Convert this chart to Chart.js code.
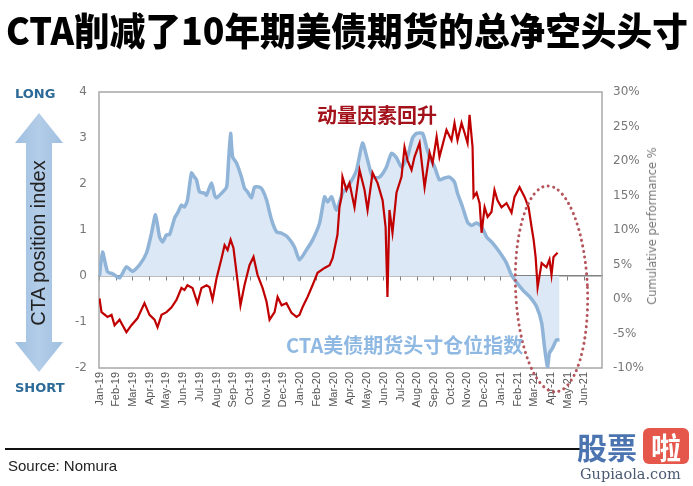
<!DOCTYPE html>
<html>
<head>
<meta charset="utf-8">
<script src="https://cdn.jsdelivr.net/npm/chart.js@4.4.1/dist/chart.umd.min.js"></script>
<style>
    html, body { margin: 0; padding: 0; background: #fff; }
    #wrap { position: relative; width: 693px; height: 486px; overflow: hidden; }
    #chart { position: absolute; left: 0; top: 0; }
    .abs { position: absolute; white-space: nowrap; }
    #title { left: 6px; top: 1px; font: 900 38px "Noto Sans CJK SC"; color: #000; transform-origin: 0 0; }
    #long, #short { font: bold 13px "DejaVu Sans"; color: #2d6a98; }
    #long { left: 15px; top: 86px; }
    #short { left: 15px; top: 380px; }
    #cpi { font: 20px "Liberation Sans"; color: #222; left: 38px; top: 243px; transform: translate(-50%, -50%) rotate(-90deg); }
    #rtitle { font: 11.5px "DejaVu Sans"; color: #777; left: 652px; top: 226px; transform: translate(-50%, -50%) rotate(-90deg); }
    #note1 { left: 317px; top: 100px; font: bold 20px "Noto Sans CJK SC"; color: #a3111a; }
    #note2 { left: 286px; top: 330px; font: bold 20px "Noto Sans CJK SC"; color: #8fb9e2; }
    #rule { left: 5px; top: 448px; width: 575px; height: 2px; background: #111; }
    #source { left: 8px; top: 457px; font: 15px "Liberation Sans"; color: #222; }
    #logo1 { left: 577px; top: 424px; font: bold 30px "Noto Sans CJK SC"; color: #4b74b0; }
    #logo2 { left: 643px; top: 428px; width: 46px; height: 36px; border-radius: 6px; background: #e4574a;
             color: #fff; font: bold 30px "Noto Sans CJK SC"; line-height: 36px; text-align: center; }
    #logo3 { left: 580px; top: 466px; font: 14.5px "DejaVu Serif"; color: #4a5a72; }
</style>
</head>
<body>
<div id="wrap">
    <canvas id="chart" width="693" height="486"></canvas>
    <div class="abs" id="title">CTA削减了10年期美债期货的总净空头头寸</div>

    <svg class="abs" style="left:0;top:0" width="80" height="400">
        <defs>
            <linearGradient id="arrowFill" x1="0" x2="1" y1="0" y2="0">
                <stop offset="0" stop-color="#9fbfe0"/>
                <stop offset="0.5" stop-color="#b3cde8"/>
                <stop offset="1" stop-color="#9fbfe0"/>
            </linearGradient>
        </defs>
        <polygon fill="url(#arrowFill)"
                 points="39,113 15,143 26,143 26,342 15,342 39,372 63,342 52,342 52,143 63,143"/>
    </svg>
    <div class="abs" id="long">LONG</div>
    <div class="abs" id="short">SHORT</div>
    <div class="abs" id="cpi">CTA position index</div>
    <div class="abs" id="rtitle">Cumulative performance %</div>

    <div class="abs" id="note1">动量因素回升</div>
    <div class="abs" id="note2">CTA美债期货头寸仓位指数</div>

    <div class="abs" id="rule"></div>
    <div class="abs" id="source">Source: Nomura</div>
    <div class="abs" id="logo1">股票</div>
    <div class="abs" id="logo2">啦</div>
    <div class="abs" id="logo3">Gupiaola.com</div>
</div>

<script>
/* ------------------------------------------------------------
   Data (x = months since Jan-19)
   ------------------------------------------------------------ */
const monthLabels = ["Jan-19", "Feb-19", "Mar-19", "Apr-19", "May-19", "Jun-19", "Jul-19", "Aug-19",
    "Sep-19", "Oct-19", "Nov-19", "Dec-19", "Jan-20", "Feb-20", "Mar-20", "Apr-20", "May-20", "Jun-20",
    "Jul-20", "Aug-20", "Sep-20", "Oct-20", "Nov-20", "Dec-20", "Jan-21", "Feb-21", "Mar-21", "Apr-21",
    "May-21", "Jun-21"];

const leftTicks = [-2, -1, 0, 1, 2, 3, 4];
const rightTicks = [-10, -5, 0, 5, 10, 15, 20, 25, 30];

// CTA position index (left axis)
const ctaMonth = [0, 0.18, 0.48, 0.78, 1.2, 1.61, 1.97, 2.39, 2.81, 3.11, 3.35, 3.59, 3.77, 4.0, 4.19,
    4.49, 4.67, 4.9, 5.08, 5.26, 5.5, 5.68, 5.8, 5.98, 6.28, 6.4, 6.7, 6.88, 7.0, 7.3, 7.6, 7.72, 7.84,
    7.96, 8.19, 8.49, 8.67, 8.85, 9.09, 9.27, 9.57, 9.75, 9.99, 10.29, 10.59, 10.89, 11.24, 11.66, 11.96,
    12.38, 12.74, 13.16, 13.46, 13.64, 13.88, 14.17, 14.53, 14.95, 15.37, 15.73, 16.03, 16.33, 16.75,
    17.16, 17.46, 17.76, 18.06, 18.42, 18.72, 18.96, 19.32, 19.56, 19.74, 20.04, 20.33, 20.63, 20.93,
    21.23, 21.41, 21.71, 22.01, 22.25, 22.55, 22.85, 23.15, 23.5, 23.92, 24.34, 24.64, 25.3, 25.72,
    26.14, 26.44, 26.61, 26.79, 26.91, 27.09, 27.33, 27.51];
const ctaIndex = [0.0, 0.52, 0.09, 0.05, -0.04, 0.2, 0.1, 0.24, 0.5, 0.93, 1.33, 0.85, 0.74, 0.89, 0.9,
    1.26, 1.37, 1.54, 1.5, 1.65, 2.24, 2.15, 2.09, 1.83, 1.8, 1.76, 2.02, 1.76, 1.7, 1.8, 1.93, 2.52, 3.1,
    2.59, 2.46, 2.15, 1.91, 1.83, 1.7, 1.93, 1.93, 1.87, 1.65, 1.22, 0.96, 0.93, 0.85, 0.63, 0.35,
    0.57, 0.78, 1.15, 1.72, 1.61, 1.72, 1.43, 1.8, 2.0, 2.3, 2.89, 2.52, 2.15, 2.15,
    2.37, 2.67, 2.57, 2.37, 2.59, 3.0, 3.1, 3.1, 2.8, 2.59, 2.37, 2.09, 2.13, 2.15,
    2.04, 1.8, 1.5, 1.17, 1.1, 1.15, 1.07, 0.85, 0.72, 0.52, 0.28, 0.02, -0.3, -0.45,
    -0.67, -1.02, -1.54, -1.98, -1.67, -1.57, -1.39, -1.39];

// Momentum cumulative performance % (right axis)
const momMonth = [0, 0.12, 0.48, 0.72, 0.9, 1.2, 1.38, 1.61, 1.91, 2.27, 2.69, 2.99, 3.29, 3.47, 3.71,
    4.01, 4.31, 4.61, 4.9, 5.08, 5.26, 5.56, 5.86, 6.1, 6.4, 6.58, 6.76, 7.0, 7.3, 7.48, 7.66, 7.84, 8.01,
    8.19, 8.43, 8.67, 8.97, 9.21, 9.45, 9.75, 9.99, 10.17, 10.47, 10.65, 10.89, 11.18, 11.48, 11.78,
    11.96, 12.14, 12.44, 12.74, 13.04, 13.46, 13.76, 13.94, 14.23, 14.35, 14.47, 14.53, 14.77, 14.95,
    15.25, 15.55, 15.85, 16.03, 16.33, 16.63, 16.93, 17.11, 17.22, 17.34, 17.52, 17.76, 18.06, 18.24,
    18.42, 18.66, 18.84, 19.14, 19.44, 19.74, 19.92, 20.16, 20.33, 20.75, 21.05, 21.23, 21.41, 21.65,
    21.83, 22.01, 22.13, 22.31, 22.37, 22.55, 22.73, 22.85, 23.03, 23.21, 23.44, 23.62, 23.8, 24.04,
    24.34, 24.64, 24.82, 25.12, 25.42, 25.66, 25.84, 25.96, 26.08, 26.2, 26.44, 26.73, 26.91, 27.03,
    27.15, 27.39];
const momPct = [0.1, -1.9, -2.6, -2.3, -3.8, -3.0, -3.8, -4.8, -3.8, -2.8, -0.6, -2.3, -3.0, -4.1, -2.3,
    -1.9, -1.2, -0.1, 1.6, 1.3, 2.0, 1.6, -0.6, 1.6, 2.0, 1.7, -0.1, 3.0, 5.9, 7.8, 7.1, 8.6, 7.4,
    3.9, -0.9, 2.0, 4.9, 6.1, 3.5, 1.6, -0.4, -3.0, -1.9, 0.3, -0.9, -0.6, -2.0, -2.6,
    -2.3, -1.2, 0.3, 2.0, 3.8, 4.5, 4.9, 5.9, 9.3, 13.3, 14.8, 17.7, 15.8, 16.8,
    13.3, 18.7, 15.8, 12.9, 18.3, 16.8, 14.3, 10.4, 0.3, 12.9, 9.6, 15.4, 17.7, 22.0,
    20.1, 18.7, 20.6, 22.6, 16.2, 21.2, 19.7, 23.5, 20.6, 24.5, 23.0, 25.5, 23.0, 25.5,
    24.1, 22.6, 26.7, 22.0, 14.8, 15.4, 13.9, 9.6, 13.3, 11.9, 12.6, 15.8, 14.3, 13.3,
    13.9, 12.5, 14.8, 16.2, 14.8, 13.3, 10.4, 8.6, 6.1, 1.7, 5.2, 4.6, 5.7, 3.5,
    6.1, 6.7];

// dotted highlight ellipse (months / index units)
const ringCenter = { x: 27.03, y: -0.28 };
const ringRadius = { x: 2.15, y: 2.24 };

const X_MIN = -0.03, X_MAX = 30.05;

/* ------------------------------------------------------------
   Plugins
   ------------------------------------------------------------ */
const framePlugin = {
    id: "frame",
    beforeDatasetsDraw(chart) {
        const { ctx, chartArea: a } = chart;
        ctx.save();
        ctx.strokeStyle = "#a8a8a8";
        ctx.lineWidth = 1.5;
        ctx.strokeRect(a.left, a.top, a.right - a.left, a.bottom - a.top);
        ctx.restore();
    }
};

const ringPlugin = {
    id: "ring",
    afterDraw(chart) {
        const { ctx, scales } = chart;
        const cx = scales.x.getPixelForValue(ringCenter.x);
        const cy = scales.y.getPixelForValue(ringCenter.y);
        const rx = scales.x.getPixelForValue(ringCenter.x + ringRadius.x) - cx;
        const ry = cy - scales.y.getPixelForValue(ringCenter.y + ringRadius.y);
        ctx.save();
        ctx.strokeStyle = "#b4545b";
        ctx.lineWidth = 3;
        ctx.lineCap = "round";
        ctx.setLineDash([0.1, 5.5]);
        ctx.beginPath();
        ctx.ellipse(cx, cy, rx, ry, -0.04, 0, Math.PI * 2);
        ctx.stroke();
        ctx.restore();
    }
};

/* ------------------------------------------------------------
   Chart
   ------------------------------------------------------------ */
function monthTicks(scale) {
    scale.ticks = monthLabels.map((m, i) => ({ value: i }));
}

function renderChart() {
    const ctx = document.getElementById("chart");

    new Chart(ctx, {
        type: "line",
        data: {
            datasets: [
                {
                    label: "Momentum",
                    data: momMonth.map((m, i) => ({ x: m, y: momPct[i] })),
                    yAxisID: "y1",
                    borderColor: "#c00000",
                    borderWidth: 2.2,
                    pointRadius: 0,
                    tension: 0,
                    order: 0
                },
                {
                    label: "CTA position index",
                    data: ctaMonth.map((m, i) => ({ x: m, y: ctaIndex[i] })),
                    yAxisID: "y",
                    borderColor: "#8fb4d8",
                    borderWidth: 3.5,
                    backgroundColor: "#dce8f5",
                    fill: "origin",
                    pointRadius: 0,
                    tension: 0.2,
                    order: 1
                }
            ]
        },
        options: {
            responsive: false,
            animation: false,
            layout: { padding: { left: 58, top: 92, right: 30, bottom: 58 } },
            plugins: { legend: { display: false }, tooltip: { enabled: false } },
            scales: {
                x: {
                    type: "linear",
                    min: X_MIN,
                    max: X_MAX,
                    position: "bottom",
                    afterBuildTicks: monthTicks,
                    afterFit: s => { s.height = 60; },
                    grid: { display: false, drawTicks: false },
                    border: { display: false },
                    ticks: {
                        autoSkip: false,
                        maxRotation: 90,
                        minRotation: 90,
                        padding: 4,
                        color: "#555",
                        font: { family: "Liberation Sans", size: 11 },
                        callback: v => monthLabels[v]
                    }
                },
                x0: {
                    type: "linear",
                    min: X_MIN,
                    max: X_MAX,
                    position: { y: 0 },
                    afterBuildTicks: monthTicks,
                    ticks: { display: false },
                    grid: { drawOnChartArea: false, drawTicks: true, tickLength: 4, color: "#808080" },
                    border: { color: "#808080", width: 1.5 }
                },
                y: {
                    min: -2,
                    max: 4,
                    position: "left",
                    afterBuildTicks: s => { s.ticks = leftTicks.map(v => ({ value: v })); },
                    afterFit: s => { s.width = 41; },
                    grid: { display: false, drawTicks: false },
                    border: { display: false },
                    ticks: {
                        padding: 12,
                        color: "#777",
                        font: { family: "DejaVu Sans", size: 12 }
                    }
                },
                y1: {
                    min: -10,
                    max: 30,
                    position: "right",
                    afterBuildTicks: s => { s.ticks = rightTicks.map(v => ({ value: v })); },
                    afterFit: s => { s.width = 61; },
                    grid: { display: false, drawTicks: false },
                    border: { display: false },
                    ticks: {
                        padding: 11,
                        color: "#777",
                        font: { family: "DejaVu Sans", size: 12 },
                        callback: v => v + "%"
                    }
                }
            }
        },
        plugins: [framePlugin, ringPlugin]
    });
}

document.addEventListener("DOMContentLoaded", () => {
    const t = document.getElementById("title");
    t.style.transform = "scaleX(" + (682 / t.offsetWidth) + ")";
    renderChart();
});
</script>
</body>
</html>
